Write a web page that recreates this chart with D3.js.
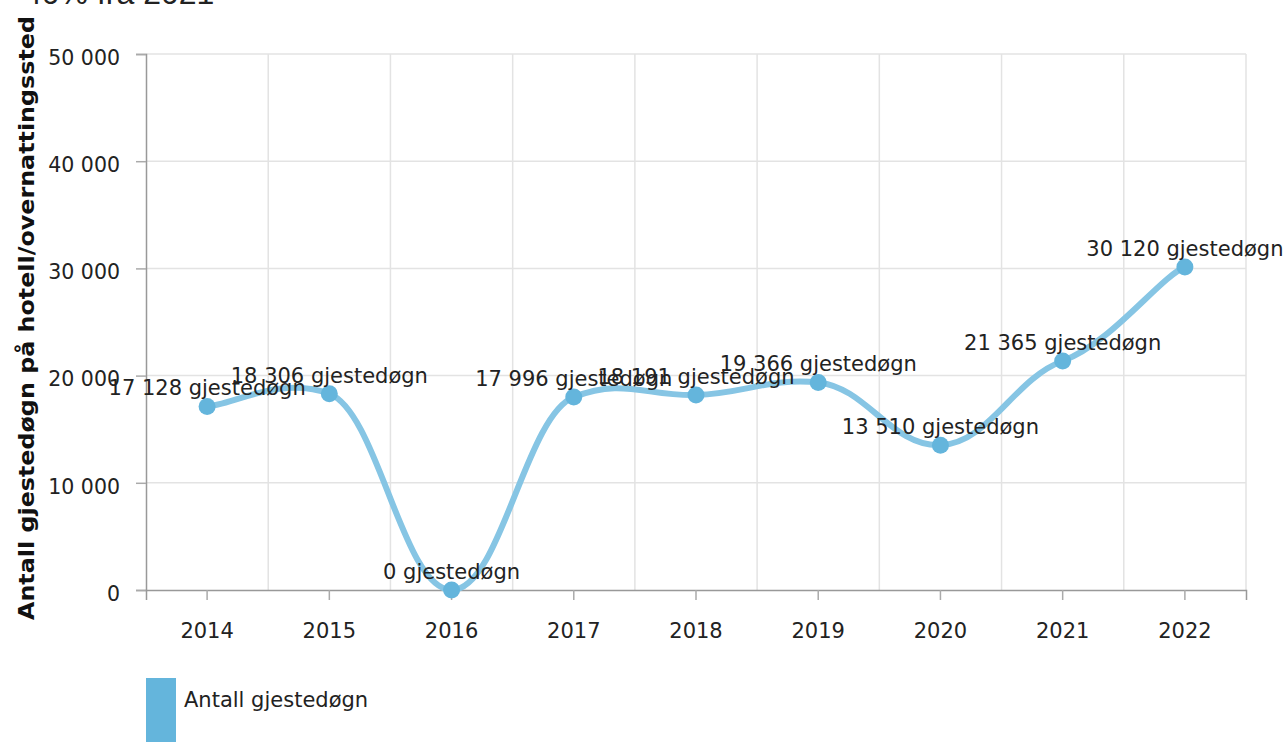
<!DOCTYPE html>
<html>
<head>
<meta charset="utf-8">
<script src="https://cdn.jsdelivr.net/npm/d3@7"></script>
<style>
  body { margin: 0; background: #fff; }
  svg { display: block; font-family: "DejaVu Sans", Verdana, sans-serif; }
</style>
</head>
<body>
<div id="chart"></div>
<script>
// data
var years = ["2014", "2015", "2016", "2017", "2018", "2019", "2020", "2021", "2022"];
var guestNights = [17128, 18306, 0, 17996, 18191, 19366, 13510, 21365, 30120];
var yTicks = [0, 10000, 20000, 30000, 40000, 50000];
var seriesName = "Antall gjestedøgn";
var yTitle = "Antall gjestedøgn på hotell/overnattingssted";
var titleText = "40% fra 2021";

var svgWidth = 1286;
var svgHeight = 742;

var chartMargin = {
    top: 54,
    right: 40,
    bottom: 152,
    left: 146
};

var chartWidth = svgWidth - chartMargin.left - chartMargin.right;
var chartHeight = svgHeight - chartMargin.top - chartMargin.bottom;

var fmt = function(v){ return d3.format(",")(v).replace(/,/g, " "); };

// smoothing with separate x / y tension (flatter than catmull-rom)
function tensionCurve(kx, ky) {
    return function(context) {
        var pts;
        return {
            areaStart: function(){}, areaEnd: function(){},
            lineStart: function(){ pts = []; },
            point: function(x, y){ pts.push([+x, +y]); },
            lineEnd: function(){
                if (!pts.length) return;
                context.moveTo(pts[0][0], pts[0][1]);
                for (var i = 0; i < pts.length - 1; i++) {
                    var p0 = pts[Math.max(i - 1, 0)], p1 = pts[i],
                        p2 = pts[i + 1], p3 = pts[Math.min(i + 2, pts.length - 1)];
                    context.bezierCurveTo(
                        p1[0] + (p2[0] - p0[0]) * kx, p1[1] + (p2[1] - p0[1]) * ky,
                        p2[0] - (p3[0] - p1[0]) * kx, p2[1] - (p3[1] - p1[1]) * ky,
                        p2[0], p2[1]);
                }
            }
        };
    };
}

var svg = d3.select("#chart")
            .append("svg")
            .attr("width", svgWidth)
            .attr("height", svgHeight);

// title, mostly cut off at the top
svg.append("text")
    .attr("x", 24)
    .attr("y", 4)
    .attr("font-family", "'Liberation Sans', Arial, sans-serif")
    .attr("font-size", 32)
    .attr("fill", "#222")
    .text(titleText);

var chartGroup = svg.append("g")
                    .attr("transform", `translate(${chartMargin.left}, ${chartMargin.top})`);

var xScale = d3.scaleBand()
                .domain(years)
                .range([0, chartWidth]);

var yScale = d3.scaleLinear()
                .domain([0, 50000])
                .range([chartHeight, 0]);

// grid
chartGroup.append("g")
    .selectAll("line")
    .data(yTicks.filter(function(d){ return d > 0; }))
    .enter().append("line")
    .attr("x1", 0).attr("x2", chartWidth)
    .attr("y1", function(d){ return yScale(d); })
    .attr("y2", function(d){ return yScale(d); })
    .attr("stroke", "#e3e3e3")
    .attr("stroke-width", 1.5);

var bounds = years.map(function(d){ return xScale(d); }).concat([chartWidth]);
chartGroup.append("g")
    .selectAll("line")
    .data(bounds.slice(1))
    .enter().append("line")
    .attr("x1", function(d){ return d; }).attr("x2", function(d){ return d; })
    .attr("y1", 0).attr("y2", chartHeight)
    .attr("stroke", "#e3e3e3")
    .attr("stroke-width", 1.5);

// axes
var yAxis = d3.axisLeft(yScale)
              .tickValues(yTicks)
              .tickFormat(fmt)
              .tickSize(10)
              .tickPadding(16);
var xAxis = d3.axisBottom(xScale)
              .tickSize(10)
              .tickPadding(23);

var gy = chartGroup.append("g").call(yAxis);
var gx = chartGroup.append("g")
            .attr("transform", `translate(0, ${chartHeight})`)
            .call(xAxis);

[gx, gy].forEach(function(g){
    g.select(".domain").attr("stroke", "#999").attr("stroke-width", 1.5);
    g.selectAll(".tick line").attr("stroke", "#aaa").attr("stroke-width", 1.5);
    g.selectAll(".tick text")
        .attr("font-family", "'DejaVu Sans', Verdana, sans-serif")
        .attr("font-size", 21)
        .attr("fill", "#222");
});
gy.selectAll(".tick text").attr("dy", "0.5em").attr("font-size", 20.5);

// line
var cx = function(d, i){ return xScale(years[i]) + xScale.bandwidth() / 2; };
var line = d3.line()
             .x(function(d, i){ return cx(d, i); })
             .y(function(d){ return yScale(d); })
             .curve(tensionCurve(0.2, 0.1));

chartGroup.append("path")
    .datum(guestNights)
    .attr("d", line)
    .attr("fill", "none")
    .attr("stroke", "#86c5e4")
    .attr("stroke-width", 6);

chartGroup.append("g")
    .selectAll("circle")
    .data(guestNights)
    .enter().append("circle")
    .attr("cx", cx)
    .attr("cy", function(d){ return yScale(d); })
    .attr("r", 8.5)
    .attr("fill", "#64b5dc");

chartGroup.append("g")
    .selectAll("text")
    .data(guestNights)
    .enter().append("text")
    .attr("x", cx)
    .attr("y", function(d){ return yScale(d) - 11; })
    .attr("text-anchor", "middle")
    .attr("font-size", 21)
    .attr("fill", "#222")
    .text(function(d){ return fmt(d) + " gjestedøgn"; });

// y title
svg.append("text")
    .attr("transform", "translate(34, 318) rotate(-90)")
    .attr("text-anchor", "middle")
    .attr("font-size", 22)
    .attr("font-weight", "bold")
    .attr("fill", "#111")
    .attr("textLength", 604)
    .attr("lengthAdjust", "spacingAndGlyphs")
    .text(yTitle);

// legend
svg.append("rect")
    .attr("x", 146).attr("y", 678)
    .attr("width", 30).attr("height", 64)
    .attr("fill", "#64b5dc");
svg.append("text")
    .attr("x", 184).attr("y", 707)
    .attr("font-size", 21)
    .attr("fill", "#222")
    .text(seriesName);
</script>
</body>
</html>
